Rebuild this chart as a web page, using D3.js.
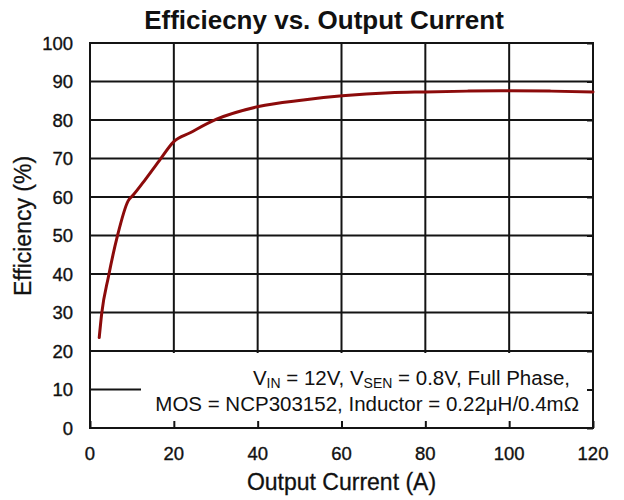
<!DOCTYPE html>
<html>
<head>
<meta charset="utf-8">
<script src="https://cdn.jsdelivr.net/npm/d3@7"></script>
<style>
  html, body { margin: 0; padding: 0; background: #fff; }
  svg { display: block; font-family: "Liberation Sans", Arial, sans-serif; }
</style>
</head>
<body>
<svg id="chart" width="624" height="500"></svg>
<script>
// Measured efficiency curve
const currentA = [2.2, 2.8, 4.4, 6.5, 9.1, 10.3, 13.1, 16.5, 20, 23.9, 30.2, 40.2, 50.9, 60.2, 71.6, 80, 90, 100, 110, 120];
const efficiencyPct = [23.5, 29.8, 39.3, 49.7, 59.0, 60.5, 64.4, 69.4, 74.4, 76.7, 80.2, 83.5, 85.2, 86.3, 87.1, 87.3, 87.5, 87.6, 87.5, 87.3];

const xTicks = [0, 20, 40, 60, 80, 100, 120];
const yTicks = [0, 10, 20, 30, 40, 50, 60, 70, 80, 90, 100];

const titleText = "Efficiecny vs. Output Current";
const xTitle = "Output Current (A)";
const yTitle = "Efficiency (%)";

const svg = d3.select("#chart");
const plotL = 90, plotR = 593, plotT = 43, plotB = 428;

const x = d3.scaleLinear().domain([0, 120]).range([plotL, plotR]);
const y = d3.scaleLinear().domain([0, 100]).range([plotB, plotT]);

const ink = "#141414";
const textInk = "#111";

// Grid
const grid = svg.append("g");
grid.selectAll("line.v").data(xTicks).enter().append("line")
  .attr("x1", d => x(d)).attr("x2", d => x(d))
  .attr("y1", plotT).attr("y2", plotB)
  .attr("stroke", ink).attr("stroke-width", 2);
grid.selectAll("line.h").data(yTicks).enter().append("line")
  .attr("x1", plotL).attr("x2", plotR)
  .attr("y1", d => y(d)).attr("y2", d => y(d))
  .attr("stroke", ink).attr("stroke-width", 2);

// Condition box (white panel over the lower grid)
svg.append("rect")
  .attr("x", 141).attr("y", 353)
  .attr("width", plotR - 141).attr("height", plotB - 353)
  .attr("fill", "#fff");

// Inward tick marks on bottom and right edges
const bottomAxis = d3.axisTop(x).tickValues(xTicks).tickSize(7).tickFormat("");
svg.append("g").attr("transform", `translate(0,${plotB})`).call(bottomAxis)
  .call(g => g.select(".domain").remove())
  .call(g => g.selectAll("line").attr("stroke", ink).attr("stroke-width", 2));
const rightAxis = d3.axisLeft(y).tickValues(yTicks).tickSize(6).tickFormat("");
svg.append("g").attr("transform", `translate(${plotR},0)`).call(rightAxis)
  .call(g => g.select(".domain").remove())
  .call(g => g.selectAll("line").attr("stroke", ink).attr("stroke-width", 2));

// Frame
svg.append("rect")
  .attr("x", plotL).attr("y", plotT)
  .attr("width", plotR - plotL).attr("height", plotB - plotT)
  .attr("fill", "none").attr("stroke", ink).attr("stroke-width", 2);

// Tick labels
svg.append("g").selectAll("text").data(yTicks).enter().append("text")
  .attr("x", 73).attr("y", d => y(d)).attr("dy", "0.36em")
  .attr("text-anchor", "end").attr("font-size", 18.5).attr("fill", textInk)
  .attr("stroke", textInk).attr("stroke-width", 0.35)
  .text(d => d);
svg.append("g").selectAll("text").data(xTicks).enter().append("text")
  .attr("x", d => x(d)).attr("y", 460)
  .attr("text-anchor", "middle").attr("font-size", 18.5).attr("fill", textInk)
  .attr("stroke", textInk).attr("stroke-width", 0.35)
  .text(d => d);

// Efficiency curve
const line = d3.line()
  .x((d, i) => x(currentA[i]))
  .y(d => y(d))
  .curve(d3.curveMonotoneX);
svg.append("path")
  .datum(efficiencyPct)
  .attr("d", line)
  .attr("fill", "none")
  .attr("stroke", "#8c0b0b")
  .attr("stroke-width", 3)
  .attr("stroke-linecap", "round")
  .attr("stroke-linejoin", "round");

// Test conditions
const cond1 = svg.append("text").attr("x", 570).attr("y", 385)
  .attr("text-anchor", "end").attr("font-size", 20.5).attr("fill", textInk);
cond1.append("tspan").text("V");
cond1.append("tspan").attr("font-size", 14).attr("dy", 3).text("IN");
cond1.append("tspan").attr("dy", -3).text(" = 12V, V");
cond1.append("tspan").attr("font-size", 14).attr("dy", 3).text("SEN");
cond1.append("tspan").attr("dy", -3).text(" = 0.8V, Full Phase,");

svg.append("text").attr("x", 579).attr("y", 411)
  .attr("text-anchor", "end").attr("font-size", 20.5).attr("fill", textInk)
  .text("MOS = NCP303152, Inductor = 0.22\u03BCH/0.4m\u03A9");

// Titles
svg.append("text").attr("x", 324).attr("y", 29)
  .attr("text-anchor", "middle").attr("font-size", 26).attr("font-weight", "bold").attr("fill", textInk)
  .text(titleText);
svg.append("text").attr("x", (plotL + plotR) / 2).attr("y", 490)
  .attr("text-anchor", "middle").attr("font-size", 23).attr("fill", textInk)
  .attr("stroke", textInk).attr("stroke-width", 0.3)
  .text(xTitle);
svg.append("text")
  .attr("transform", "translate(31,226) rotate(-90)")
  .attr("text-anchor", "middle").attr("font-size", 23).attr("fill", textInk)
  .attr("stroke", textInk).attr("stroke-width", 0.3)
  .text(yTitle);
</script>
</body>
</html>
